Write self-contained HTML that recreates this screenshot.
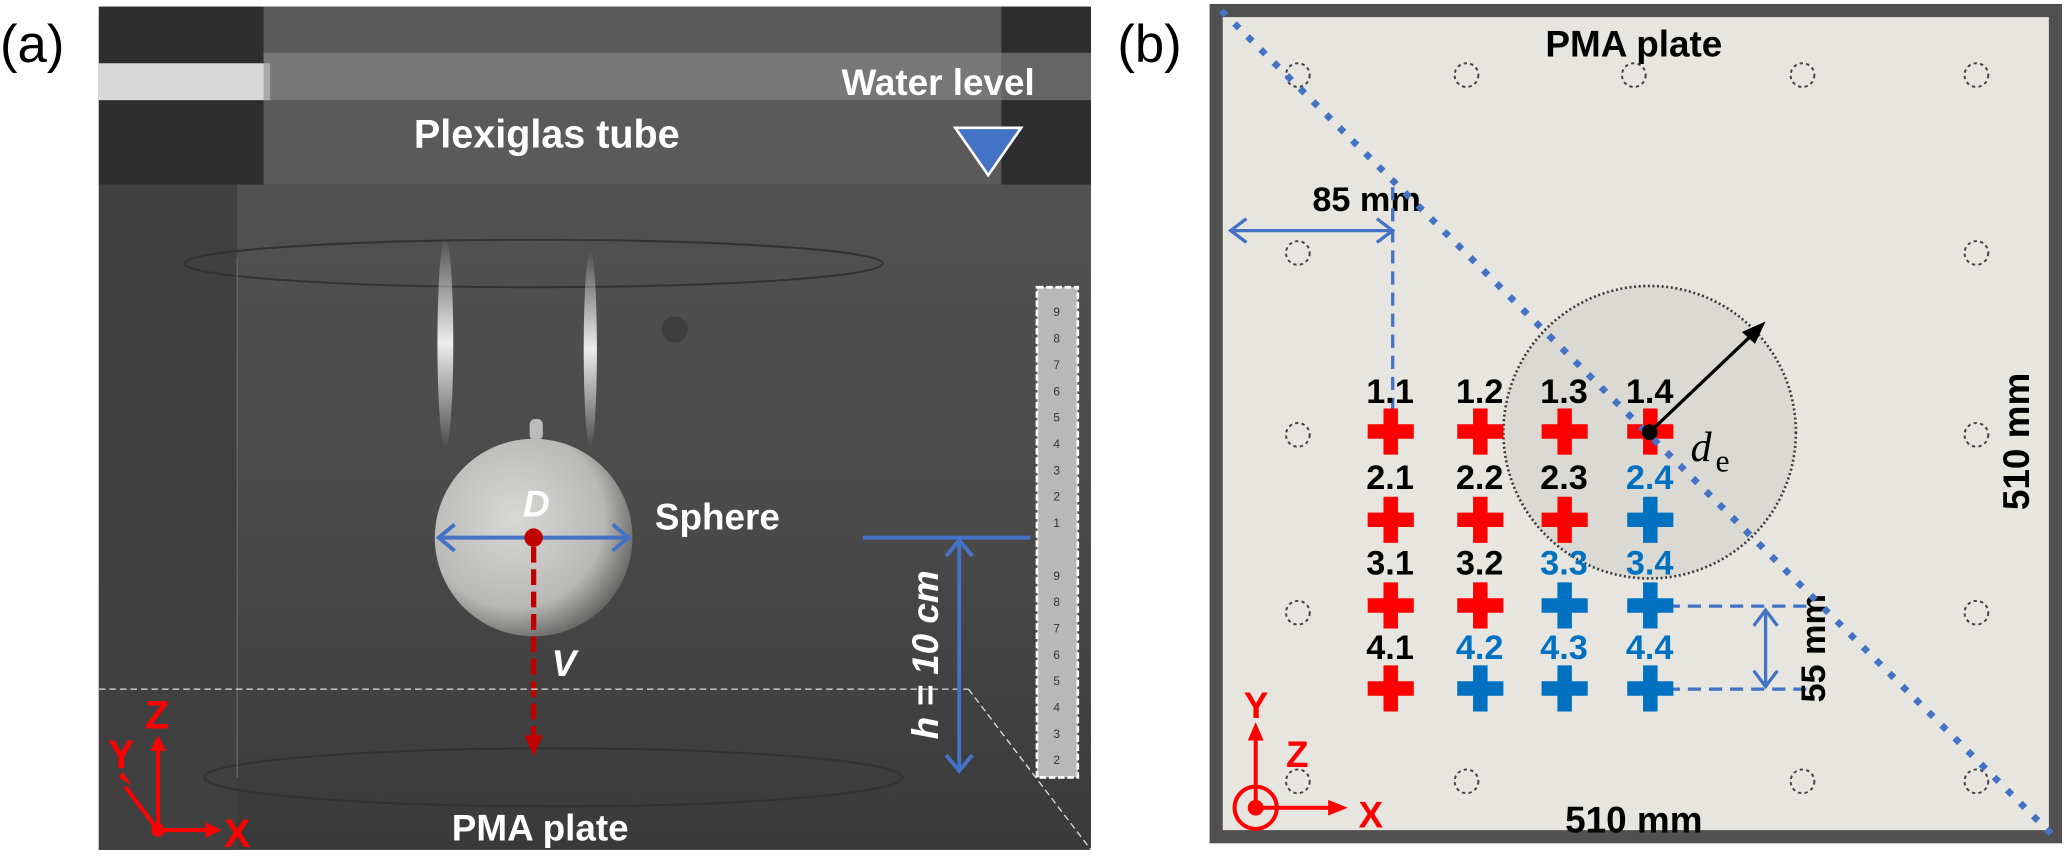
<!DOCTYPE html>
<html><head><meta charset="utf-8"><style>html,body{margin:0;padding:0;background:#fff}svg{display:block}</style></head>
<body>
<svg width="2066" height="857" viewBox="0 0 1568 650.4" preserveAspectRatio="none" xmlns="http://www.w3.org/2000/svg" font-family="Liberation Sans, sans-serif">
<defs>
<radialGradient id="sph" cx="0.4" cy="0.4" r="0.65"><stop offset="0" stop-color="#d8d8d6"/><stop offset="0.7" stop-color="#b8b8b6"/><stop offset="1" stop-color="#606060"/></radialGradient>
<linearGradient id="bg" x1="0" y1="0" x2="0" y2="1"><stop offset="0" stop-color="#555"/><stop offset="0.6" stop-color="#4a4a4a"/><stop offset="1" stop-color="#3a3a3a"/></linearGradient>
<linearGradient id="stk" x1="0" y1="0" x2="0" y2="1"><stop offset="0" stop-color="#fff" stop-opacity="0"/><stop offset="0.5" stop-color="#fff" stop-opacity="0.9"/><stop offset="1" stop-color="#fff" stop-opacity="0"/></linearGradient>
</defs>
<!-- Panel a -->
<text x="0" y="47" font-size="40">(a)</text>
<rect x="75" y="5" width="753" height="640" fill="url(#bg)"/>
<rect x="75" y="5" width="753" height="135" fill="#2e2e2e"/>
<rect x="200" y="5" width="560" height="135" fill="#5a5a5a"/>
<rect x="75" y="48" width="130" height="28" fill="#d8d8d8"/>
<rect x="200" y="40" width="628" height="36" fill="#8a8a8a" opacity="0.6"/>
<rect x="75" y="140" width="105" height="505" fill="#404040"/>
<ellipse cx="405" cy="200" rx="265" ry="18" fill="none" stroke="#333" stroke-width="1.5"/>
<ellipse cx="420" cy="590" rx="265" ry="22" fill="none" stroke="#333" stroke-width="1.5"/>
<line x1="180" y1="195" x2="180" y2="590" stroke="#666"/>
<ellipse cx="338" cy="260" rx="6" ry="80" fill="url(#stk)"/>
<ellipse cx="448" cy="265" rx="5" ry="75" fill="url(#stk)"/>
<circle cx="512" cy="250" r="10" fill="#333" opacity="0.6"/>
<text x="415" y="112" font-size="30" font-weight="bold" fill="#fff" text-anchor="middle">Plexiglas tube</text>
<text x="712" y="72" font-size="28" font-weight="bold" fill="#fff" text-anchor="middle">Water level</text>
<polygon points="725,97 775,97 750,133" fill="#4472c4" stroke="#fff" stroke-width="2"/>
<rect x="402" y="318" width="10" height="16" rx="4" fill="#bbb"/>
<circle cx="405" cy="408" r="75" fill="url(#sph)"/>
<line x1="333" y1="408" x2="477" y2="408" stroke="#4472c4" stroke-width="3"/>
<polyline points="345,398 333,408 345,418" fill="none" stroke="#4472c4" stroke-width="3"/>
<polyline points="465,398 477,408 465,418" fill="none" stroke="#4472c4" stroke-width="3"/>
<circle cx="405" cy="408" r="7" fill="#c00000"/>
<line x1="405" y1="415" x2="405" y2="562" stroke="#c00000" stroke-width="4" stroke-dasharray="12,5"/>
<polygon points="398,558 412,558 405,574" fill="#c00000"/>
<text x="407" y="392" font-size="28" font-weight="bold" font-style="italic" fill="#fff" text-anchor="middle">D</text>
<text x="428" y="513" font-size="28" font-weight="bold" font-style="italic" fill="#fff" text-anchor="middle">V</text>
<text x="497" y="402" font-size="28" font-weight="bold" fill="#fff">Sphere</text>
<line x1="75" y1="523" x2="735" y2="523" stroke="#ddd" stroke-dasharray="5,3"/>
<line x1="735" y1="523" x2="828" y2="645" stroke="#ddd" stroke-dasharray="5,3"/>
<rect x="787" y="218" width="31" height="372" fill="#b8b8b8" stroke="#fff" stroke-width="2" stroke-dasharray="5,2"/>
<g font-size="9" fill="#333" text-anchor="middle">
<text x="802" y="240">9</text><text x="802" y="260">8</text><text x="802" y="280">7</text><text x="802" y="300">6</text><text x="802" y="320">5</text><text x="802" y="340">4</text><text x="802" y="360">3</text><text x="802" y="380">2</text><text x="802" y="400">1</text><text x="802" y="440">9</text><text x="802" y="460">8</text><text x="802" y="480">7</text><text x="802" y="500">6</text><text x="802" y="520">5</text><text x="802" y="540">4</text><text x="802" y="560">3</text><text x="802" y="580">2</text></g>
<line x1="655" y1="408" x2="782" y2="408" stroke="#4472c4" stroke-width="3"/>
<line x1="728" y1="410" x2="728" y2="585" stroke="#4472c4" stroke-width="3"/>
<polyline points="718,422 728,410 738,422" fill="none" stroke="#4472c4" stroke-width="3"/>
<polyline points="718,573 728,585 738,573" fill="none" stroke="#4472c4" stroke-width="3"/>
<text transform="translate(712,497) rotate(-90)" font-size="28" font-weight="bold" font-style="italic" fill="#fff" text-anchor="middle">h = 10 cm</text>
<g stroke="#f00" stroke-width="3" fill="none">
<line x1="120" y1="630" x2="120" y2="568"/><line x1="120" y1="630" x2="158" y2="630"/><line x1="120" y1="630" x2="95" y2="597"/></g>
<polygon points="114,570 126,570 120,558" fill="#f00"/><polygon points="156,624 156,636 168,630" fill="#f00"/><polygon points="90,590 100,596 93,586" fill="#f00"/>
<circle cx="120" cy="630" r="5" fill="#f00"/>
<g font-size="30" font-weight="bold" fill="#f00"><text x="110" y="553">Z</text><text x="82" y="583">Y</text><text x="170" y="643">X</text></g>
<text x="410" y="638" font-size="28" font-weight="bold" fill="#fff" text-anchor="middle">PMA plate</text>
<!-- Panel b -->
<text x="848" y="47" font-size="40">(b)</text>
<rect x="923" y="8" width="637" height="627" fill="#e6e5e0" stroke="#505050" stroke-width="10"/>
<text x="1240" y="43" font-size="28" font-weight="bold" text-anchor="middle">PMA plate</text>
<g fill="none" stroke="#444" stroke-width="1.5" stroke-dasharray="2.5,2.5">
<circle cx="985" cy="57" r="9"/><circle cx="1113" cy="57" r="9"/><circle cx="1240" cy="57" r="9"/><circle cx="1368" cy="57" r="9"/><circle cx="1500" cy="57" r="9"/>
<circle cx="985" cy="192" r="9"/><circle cx="985" cy="330" r="9"/><circle cx="985" cy="465" r="9"/><circle cx="985" cy="593" r="9"/>
<circle cx="1500" cy="192" r="9"/><circle cx="1500" cy="330" r="9"/><circle cx="1500" cy="465" r="9"/><circle cx="1500" cy="593" r="9"/>
<circle cx="1113" cy="593" r="9"/><circle cx="1368" cy="593" r="9"/></g>
<circle cx="1252" cy="328" r="111" fill="#d6d5d1" opacity="0.75" stroke="#000" stroke-width="2" stroke-dasharray="1.5,2"/>
<text x="996" y="160" font-size="26" font-weight="bold">85 mm</text>
<line x1="934" y1="175" x2="1057" y2="175" stroke="#4472c4" stroke-width="2.5"/>
<polyline points="946,166 934,175 946,184" fill="none" stroke="#4472c4" stroke-width="2.5"/>
<polyline points="1045,166 1057,175 1045,184" fill="none" stroke="#4472c4" stroke-width="2.5"/>
<line x1="1057" y1="142" x2="1057" y2="318" stroke="#4472c4" stroke-width="2.5" stroke-dasharray="10,6"/>
<line x1="1265" y1="460" x2="1372" y2="460" stroke="#4472c4" stroke-width="2.5" stroke-dasharray="10,6"/>
<line x1="1265" y1="523" x2="1372" y2="523" stroke="#4472c4" stroke-width="2.5" stroke-dasharray="10,6"/>
<line x1="1340" y1="463" x2="1340" y2="521" stroke="#4472c4" stroke-width="2.5"/>
<polyline points="1331,475 1340,463 1349,475" fill="none" stroke="#4472c4" stroke-width="2.5"/>
<polyline points="1331,509 1340,521 1349,509" fill="none" stroke="#4472c4" stroke-width="2.5"/>
<text transform="translate(1385,492) rotate(-90)" font-size="26" font-weight="bold" text-anchor="middle">55 mm</text>
<text transform="translate(1540,335) rotate(-90)" font-size="28" font-weight="bold" text-anchor="middle">510 mm</text>
<text x="1240" y="632" font-size="28" font-weight="bold" text-anchor="middle">510 mm</text>
<g font-size="26" font-weight="bold" text-anchor="middle">
<text x="1055" y="306">1.1</text><text x="1123" y="306">1.2</text><text x="1187" y="306">1.3</text><text x="1252" y="306">1.4</text>
<text x="1055" y="371">2.1</text><text x="1123" y="371">2.2</text><text x="1187" y="371">2.3</text><text x="1252" y="371" fill="#0070c0">2.4</text>
<text x="1055" y="436">3.1</text><text x="1123" y="436">3.2</text><text x="1187" y="436" fill="#0070c0">3.3</text><text x="1252" y="436" fill="#0070c0">3.4</text>
<text x="1055" y="500">4.1</text><text x="1123" y="500" fill="#0070c0">4.2</text><text x="1187" y="500" fill="#0070c0">4.3</text><text x="1252" y="500" fill="#0070c0">4.4</text></g>
<g fill="#f00">
<path d="M1050,310h11v12h12v11h-12v12h-11v-12h-12v-11h12z"/>
<path d="M1118,310h11v12h12v11h-12v12h-11v-12h-12v-11h12z"/>
<path d="M1182,310h11v12h12v11h-12v12h-11v-12h-12v-11h12z"/>
<path d="M1247,310h11v12h12v11h-12v12h-11v-12h-12v-11h12z"/>
<path d="M1050,377h11v12h12v11h-12v12h-11v-12h-12v-11h12z"/>
<path d="M1118,377h11v12h12v11h-12v12h-11v-12h-12v-11h12z"/>
<path d="M1182,377h11v12h12v11h-12v12h-11v-12h-12v-11h12z"/>
<path d="M1050,442h11v12h12v11h-12v12h-11v-12h-12v-11h12z"/>
<path d="M1118,442h11v12h12v11h-12v12h-11v-12h-12v-11h12z"/>
<path d="M1050,505h11v12h12v11h-12v12h-11v-12h-12v-11h12z"/></g>
<g fill="#0070c0">
<path d="M1247,377h11v12h12v11h-12v12h-11v-12h-12v-11h12z"/>
<path d="M1182,442h11v12h12v11h-12v12h-11v-12h-12v-11h12z"/>
<path d="M1247,442h11v12h12v11h-12v12h-11v-12h-12v-11h12z"/>
<path d="M1118,505h11v12h12v11h-12v12h-11v-12h-12v-11h12z"/>
<path d="M1182,505h11v12h12v11h-12v12h-11v-12h-12v-11h12z"/>
<path d="M1247,505h11v12h12v11h-12v12h-11v-12h-12v-11h12z"/></g>
<line x1="927" y1="8" x2="1557" y2="633" stroke="#4472c4" stroke-width="5" stroke-dasharray="5,9"/>
<line x1="1252" y1="328" x2="1334" y2="250" stroke="#000" stroke-width="2.5"/>
<polygon points="1340,244 1322,252 1332,261" fill="#000"/>
<circle cx="1252" cy="328" r="6" fill="#000"/>
<text x="1283" y="350" font-size="32" font-style="italic" font-family="Liberation Serif, serif">d</text><text x="1302" y="358" font-size="24" font-family="Liberation Serif, serif">e</text>
<g stroke="#f00" stroke-width="3" fill="none"><circle cx="953" cy="613" r="16"/><line x1="953" y1="613" x2="953" y2="560"/><line x1="953" y1="613" x2="1010" y2="613"/></g>
<circle cx="953" cy="613" r="6" fill="#f00"/>
<polygon points="947,562 959,562 953,548" fill="#f00"/><polygon points="1008,607 1008,619 1023,613" fill="#f00"/>
<g font-size="28" font-weight="bold" fill="#f00"><text x="944" y="545">Y</text><text x="976" y="582">Z</text><text x="1031" y="628">X</text></g>
</svg>
</body></html>
